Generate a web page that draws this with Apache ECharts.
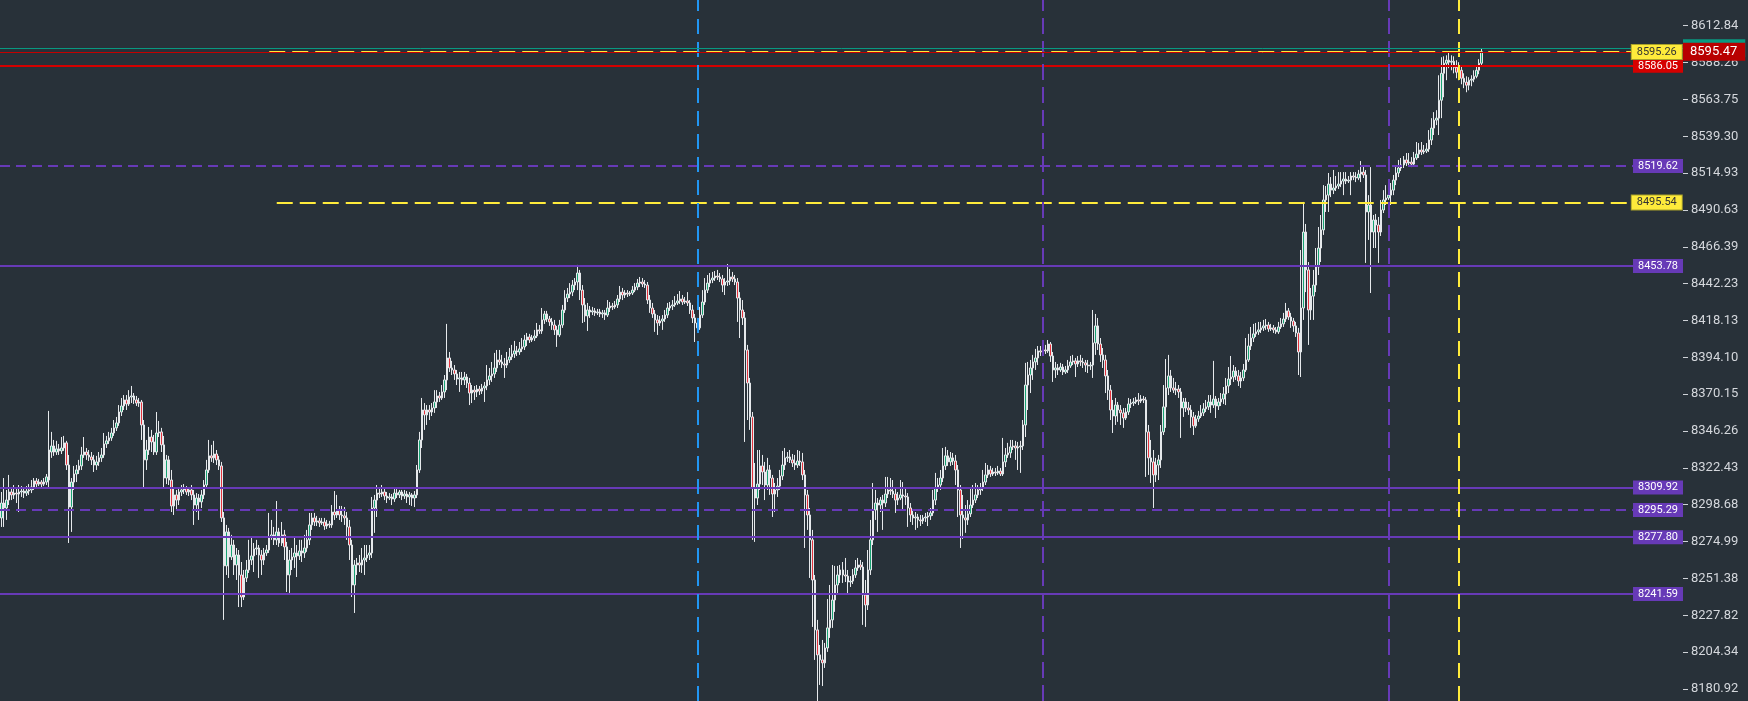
<!DOCTYPE html>
<html><head><meta charset="utf-8">
<style>html,body{margin:0;padding:0;background:#283139;}#c{width:1748px;height:701px;}</style>
<script src="https://cdn.jsdelivr.net/npm/echarts@6.0.0/dist/echarts.min.js"></script>
</head><body><div id="c"></div>
<script>
// right price-scale tick labels (bottom to top), equally spaced on a log scale
const tickLabels = ['8180.92','8204.34','8227.82','8251.38','8274.99','8298.68','8322.43','8346.26','8370.15','8394.10','8418.13','8442.23','8466.39','8490.63','8514.93','8539.30','8563.75','8588.26','8612.84'];
const slotCount = 672; // candle slots incl. empty right margin
const visibleRange = [-0.3256, 18.6974]; // visible extent in tick-step units (bottom, top)

// candles [open, close, low, high], split by the vertical session lines
const session1 = [
[8290.2,8299.8,8284.4,8306.9],[8299.8,8296.6,8284.4,8315.9],[8296.6,8301.7,8288.9,8308.2],[8301.7,8306.9,8298.5,8317.9],[8306.9,8305.0,8301.7,8309.4],[8305.0,8306.2,8302.4,8311.4],[8306.2,8305.6,8299.8,8309.4],[8305.6,8306.9,8294.0,8311.4],[8306.9,8307.5,8303.7,8310.7],[8307.5,8306.2,8303.0,8310.1],
[8306.2,8307.5,8304.3,8310.7],[8307.5,8308.2,8305.0,8312.0],[8308.2,8310.1,8306.2,8314.6],[8310.1,8314.0,8308.2,8315.9],[8314.0,8312.0,8310.1,8315.9],[8312.0,8313.3,8310.7,8315.3],[8313.3,8312.0,8310.1,8314.6],[8312.0,8313.3,8310.7,8315.9],[8313.3,8316.6,8311.4,8318.5],[8314.6,8334.0,8310.1,8359.3],
[8332.7,8336.6,8328.9,8345.7],[8336.6,8332.7,8330.2,8340.5],[8332.7,8334.7,8330.8,8339.9],[8334.7,8333.4,8330.8,8337.9],[8333.4,8335.3,8331.4,8342.4],[8335.3,8338.6,8333.4,8343.1],[8338.6,8324.3,8321.1,8339.9],[8324.3,8297.2,8274.1,8330.8],[8297.2,8313.3,8281.2,8315.9],[8313.3,8318.5,8308.2,8323.7],
[8318.5,8321.1,8313.3,8324.3],[8321.1,8323.7,8318.5,8327.6],[8323.7,8330.8,8321.1,8336.0],[8330.8,8332.7,8328.9,8342.4],[8332.7,8330.8,8327.6,8335.3],[8330.8,8329.5,8326.9,8334.0],[8329.5,8327.6,8324.3,8332.7],[8327.6,8324.3,8319.8,8330.8],[8324.3,8326.3,8321.1,8330.2],[8326.3,8328.9,8323.7,8332.7],
[8328.9,8330.8,8326.3,8335.3],[8330.8,8337.9,8328.9,8345.0],[8337.9,8339.9,8335.3,8343.1],[8339.9,8341.8,8337.9,8345.7],[8341.8,8345.0,8339.9,8348.3],[8345.0,8348.3,8343.1,8353.4],[8348.3,8351.5,8346.3,8355.4],[8351.5,8358.6,8349.6,8363.1],[8358.6,8362.5,8356.0,8367.7],[8362.5,8366.4,8359.9,8369.6],
[8366.4,8363.8,8359.9,8369.6],[8363.8,8368.3,8362.5,8372.8],[8368.3,8369.0,8364.4,8375.5],[8369.0,8366.4,8363.8,8370.9],[8366.4,8364.4,8362.5,8369.0],[8364.4,8365.1,8361.9,8367.7],[8365.1,8350.2,8340.5,8366.4],[8350.2,8327.6,8309.4,8353.4],[8327.6,8334.0,8321.1,8340.5],[8334.0,8342.4,8330.8,8348.9],
[8342.4,8339.2,8332.7,8347.0],[8339.2,8332.7,8330.8,8343.7],[8332.7,8345.0,8330.8,8358.6],[8345.0,8345.7,8342.4,8352.8],[8345.7,8337.3,8332.7,8348.3],[8337.3,8315.9,8310.1,8343.1],[8315.9,8327.6,8312.0,8330.8],[8327.6,8314.6,8311.4,8330.2],[8314.6,8297.9,8294.0,8321.1],[8297.9,8305.0,8292.1,8309.4],
[8305.0,8301.7,8295.3,8308.2],[8301.7,8306.9,8298.5,8310.1],[8306.9,8308.2,8304.3,8311.4],[8308.2,8309.4,8305.6,8312.0],[8309.4,8306.9,8305.0,8310.7],[8306.9,8308.2,8304.3,8310.1],[8308.2,8305.0,8301.7,8311.4],[8305.0,8298.5,8285.7,8308.2],[8298.5,8303.0,8294.0,8306.2],[8303.0,8300.5,8288.9,8305.6],
[8300.5,8305.0,8296.6,8308.2],[8305.0,8311.4,8302.4,8314.6],[8311.4,8321.1,8309.4,8327.6],[8321.1,8330.2,8319.2,8340.5],[8330.2,8328.9,8326.3,8337.3],[8328.9,8331.4,8325.6,8339.9],[8331.4,8327.6,8324.3,8334.0],[8327.6,8323.7,8321.1,8330.2],[8323.7,8290.2,8287.6,8326.3],[8290.2,8259.4,8224.9,8294.0],
[8259.4,8281.2,8253.6,8285.7],[8281.2,8265.1,8251.7,8283.8],[8265.1,8272.8,8263.2,8279.3],[8272.8,8260.0,8253.6,8276.1],[8260.0,8266.4,8250.4,8270.9],[8266.4,8253.6,8233.1,8269.6],[8253.6,8239.5,8233.1,8261.9],[8239.5,8251.7,8237.6,8256.8],[8251.7,8256.8,8249.1,8263.2],[8256.8,8263.2,8254.9,8276.1],
[8263.2,8265.8,8260.0,8277.3],[8265.8,8270.3,8255.5,8274.1],[8270.3,8270.9,8266.4,8276.1],[8270.9,8266.4,8251.7,8272.8],[8266.4,8263.2,8253.6,8269.6],[8263.2,8267.7,8260.0,8270.9],[8267.7,8269.6,8265.8,8272.8],[8269.6,8278.0,8267.7,8293.4],[8278.0,8279.3,8276.1,8288.9],[8279.3,8276.1,8272.8,8284.4],
[8276.1,8281.2,8272.8,8301.1],[8281.2,8274.1,8271.6,8283.8],[8274.1,8279.3,8272.2,8287.6],[8279.3,8271.6,8263.2,8282.5],[8271.6,8253.6,8242.7,8274.8],[8253.6,8263.2,8242.1,8269.6],[8263.2,8265.1,8256.8,8270.9],[8265.1,8267.7,8258.1,8278.0],[8267.7,8265.8,8252.3,8272.8],[8265.8,8269.0,8263.2,8276.1],
[8269.0,8267.7,8261.9,8276.1],[8267.7,8270.9,8264.5,8279.3],[8270.9,8276.1,8268.4,8282.5],[8276.1,8285.7,8272.8,8293.4],[8285.7,8290.2,8282.5,8293.4],[8290.2,8287.6,8285.0,8293.4],[8287.6,8288.3,8285.0,8291.5],[8288.3,8287.0,8284.4,8290.2],[8287.0,8287.6,8285.7,8290.2],[8287.6,8285.0,8282.5,8290.2],
[8285.0,8286.3,8283.1,8288.9],[8286.3,8285.7,8283.8,8288.3],[8285.7,8294.0,8283.8,8298.5],[8294.0,8292.1,8288.9,8307.5],[8292.1,8295.3,8290.2,8305.0],[8295.3,8292.1,8288.9,8297.9],[8292.1,8291.5,8287.6,8297.9],[8291.5,8290.2,8285.7,8297.2],[8290.2,8284.4,8276.1,8294.0],[8284.4,8272.8,8263.2,8288.9],
[8272.8,8247.2,8239.5,8276.1],[8247.2,8260.0,8229.3,8263.2],[8260.0,8261.3,8253.6,8264.5],[8261.3,8260.0,8255.5,8266.4],[8260.0,8263.2,8254.9,8270.9],[8263.2,8264.5,8253.6,8272.8],[8264.5,8266.4,8261.9,8272.8],[8266.4,8267.7,8263.2,8272.8],[8267.7,8296.6,8264.5,8303.7],[8296.6,8301.7,8280.6,8305.0],
[8301.7,8306.2,8290.8,8311.4],[8306.2,8305.6,8303.0,8309.4],[8305.6,8306.9,8303.7,8311.4],[8306.9,8304.3,8301.7,8309.4],[8304.3,8303.0,8299.8,8306.9],[8303.0,8303.7,8301.7,8306.2],[8303.7,8302.4,8298.5,8305.6],[8302.4,8306.2,8300.5,8308.8],[8306.2,8305.0,8303.0,8308.8],[8305.0,8306.9,8303.0,8308.2],
[8306.9,8304.3,8301.7,8308.2],[8304.3,8305.6,8302.4,8308.2],[8305.6,8303.7,8299.8,8307.5],[8303.7,8305.0,8298.5,8306.9],[8305.0,8303.0,8297.9,8306.2],[8303.0,8305.0,8297.2,8307.5],[8305.0,8321.1,8303.0,8324.3],[8321.1,8340.5,8319.2,8345.7],[8340.5,8359.9,8335.3,8367.7],[8359.9,8356.7,8347.0,8364.4],
[8356.7,8359.9,8350.2,8363.1],[8359.9,8358.6,8353.4,8363.1],[8358.6,8361.2,8356.0,8364.4],[8361.2,8365.1,8358.0,8372.8],[8365.1,8369.0,8361.2,8372.8],[8369.0,8367.7,8365.1,8371.6],[8367.7,8371.6,8366.4,8376.1],[8371.6,8379.4,8367.7,8382.6],[8379.4,8393.7,8372.8,8415.9],[8393.7,8387.2,8384.6,8397.6],
[8387.2,8385.9,8382.6,8391.8],[8385.9,8383.3,8379.4,8389.1],[8383.3,8380.0,8376.1,8385.9],[8380.0,8380.7,8371.6,8384.6],[8380.7,8379.4,8376.1,8384.6],[8379.4,8381.3,8376.1,8384.6],[8381.3,8377.4,8374.2,8383.3],[8377.4,8370.9,8363.1,8380.7],[8370.9,8372.8,8364.4,8376.1],[8372.8,8371.6,8366.4,8375.5],
[8371.6,8373.5,8368.3,8376.1],[8373.5,8372.2,8369.6,8375.5],[8372.2,8374.2,8370.3,8376.8],[8374.2,8375.5,8365.1,8378.1],[8375.5,8379.4,8372.8,8389.1],[8379.4,8382.0,8376.1,8387.2],[8382.0,8383.3,8378.1,8391.1],[8383.3,8387.2,8380.7,8397.0],[8387.2,8392.4,8384.6,8398.9],[8392.4,8391.1,8389.1,8398.9],
[8391.1,8389.8,8387.2,8395.7],[8389.8,8389.1,8380.7,8393.7],[8389.1,8392.4,8387.2,8397.6],[8392.4,8394.4,8390.5,8400.2],[8394.4,8396.3,8392.4,8402.2],[8396.3,8398.3,8393.7,8404.8],[8398.3,8397.6,8395.0,8401.5],[8397.6,8399.6,8395.7,8404.1],[8399.6,8400.9,8397.6,8406.7],[8400.9,8405.4,8398.9,8408.7],
[8405.4,8407.4,8401.5,8410.0],[8407.4,8405.4,8403.5,8409.4],[8405.4,8406.7,8404.1,8408.7],[8406.7,8408.0,8404.8,8412.0],[8408.0,8412.0,8406.7,8416.5],[8412.0,8411.3,8409.4,8415.2],[8411.3,8418.5,8409.4,8426.3],[8418.5,8422.4,8415.9,8424.4],[8422.4,8419.1,8417.2,8424.4],[8419.1,8417.2,8414.6,8421.1],
[8417.2,8415.2,8412.0,8419.8],[8415.2,8412.0,8408.7,8418.5],[8412.0,8408.7,8400.9,8414.6],[8408.7,8415.2,8407.4,8418.5],[8415.2,8425.0,8413.3,8428.3],[8425.0,8432.8,8423.1,8438.0],[8432.8,8435.4,8430.2,8439.4],[8435.4,8436.7,8432.8,8442.6],[8436.7,8441.3,8434.1,8444.6],[8441.3,8443.3,8438.0,8445.9],
[8443.3,8449.2,8438.0,8454.5],[8449.2,8438.0,8431.5,8451.2],[8438.0,8428.3,8416.5,8441.3],[8428.3,8421.1,8417.2,8432.8],[8421.1,8425.0,8411.3,8429.6],[8425.0,8423.7,8419.8,8427.6],[8423.7,8424.4,8421.7,8427.0],[8424.4,8423.1,8421.1,8426.3],[8423.1,8423.7,8421.7,8425.7],[8423.7,8422.4,8420.4,8425.7],
[8422.4,8423.1,8419.8,8425.0],[8423.1,8421.7,8418.5,8425.0],[8421.7,8426.3,8420.4,8431.5],[8426.3,8427.6,8423.7,8430.2],[8427.6,8427.0,8425.0,8429.6],[8427.0,8428.3,8425.7,8430.9],[8428.3,8432.2,8426.3,8434.8],[8432.2,8436.7,8430.2,8440.7],[8436.7,8434.8,8431.5,8439.4],[8434.8,8436.1,8432.8,8438.0],
[8436.1,8435.4,8433.5,8438.0],[8435.4,8436.1,8434.1,8437.4],[8436.1,8438.0,8434.8,8440.7],[8438.0,8440.0,8436.7,8442.6],[8440.0,8442.6,8438.0,8445.3],[8442.6,8443.3,8440.0,8446.6],[8443.3,8442.0,8440.0,8445.9],[8442.0,8441.3,8439.4,8444.6],[8441.3,8431.5,8428.9,8443.3],[8431.5,8426.3,8423.1,8434.8],
[8426.3,8422.4,8419.8,8429.6],[8422.4,8418.5,8410.7,8425.0],[8418.5,8416.5,8408.7,8421.7],[8416.5,8417.8,8414.6,8421.1],[8417.8,8419.1,8412.0,8421.7],[8419.1,8421.7,8417.2,8425.0],[8421.7,8426.3,8419.8,8429.6],[8426.3,8427.6,8424.4,8430.2],[8427.6,8428.3,8425.0,8431.5],[8428.3,8429.6,8427.0,8434.1],
[8429.6,8430.9,8428.3,8435.4],[8430.9,8432.2,8428.9,8437.4],[8432.2,8430.2,8428.3,8434.8],[8430.2,8430.9,8428.9,8433.5],[8430.9,8429.6,8427.6,8436.7],[8429.6,8425.0,8422.4,8431.5],[8425.0,8419.8,8416.5,8428.3],[8419.8,8416.5,8404.1,8422.4]
];
const session2 = [
[8416.5,8413.3,8410.0,8419.8],[8413.3,8421.7,8412.0,8427.0],[8421.7,8430.2,8419.8,8438.0],[8430.2,8438.0,8428.3,8445.9],[8438.0,8442.6,8436.1,8447.9],[8442.6,8444.6,8440.0,8449.2],[8444.6,8445.9,8442.6,8449.9],[8445.9,8447.2,8444.0,8450.5],[8447.2,8446.6,8444.6,8451.2],[8446.6,8445.3,8443.3,8449.2],
[8445.3,8441.3,8436.7,8447.9],[8441.3,8443.3,8434.8,8445.9],[8443.3,8444.0,8440.7,8455.1],[8444.0,8446.6,8441.3,8451.8],[8446.6,8445.3,8443.3,8449.9],[8445.3,8443.3,8441.3,8447.9],[8443.3,8432.8,8417.2,8445.9],[8432.8,8425.0,8406.7,8436.7],[8425.0,8419.8,8415.2,8431.5],[8419.8,8398.9,8339.2,8423.7],
[8398.9,8377.4,8353.4,8402.2],[8377.4,8355.4,8347.0,8380.7],[8355.4,8309.4,8276.1,8358.6],[8309.4,8303.0,8274.8,8325.6],[8303.0,8312.0,8298.5,8334.0],[8312.0,8323.7,8308.2,8334.0],[8323.7,8319.8,8311.4,8330.8],[8319.8,8311.4,8301.7,8326.3],[8311.4,8321.1,8308.2,8328.9],[8321.1,8315.9,8305.0,8324.3],
[8315.9,8305.6,8290.8,8317.9],[8305.6,8308.2,8294.0,8312.7],[8308.2,8310.7,8303.7,8315.9],[8310.7,8317.2,8308.2,8321.1],[8317.2,8324.3,8314.6,8333.4],[8324.3,8328.9,8321.1,8335.3],[8328.9,8329.5,8326.3,8332.7],[8329.5,8327.6,8325.6,8334.0],[8327.6,8325.6,8323.0,8331.4],[8325.6,8324.3,8321.1,8330.8],
[8324.3,8326.9,8322.4,8334.0],[8326.9,8326.3,8323.7,8333.4],[8326.3,8317.9,8314.6,8332.1],[8317.9,8305.0,8270.9,8321.1],[8305.0,8292.1,8282.5,8308.2],[8292.1,8276.1,8251.7,8296.6],[8276.1,8250.4,8220.4,8282.5],[8250.4,8218.5,8199.4,8253.6],[8218.5,8202.6,8173.3,8224.9],[8202.6,8199.4,8183.5,8208.9],
[8199.4,8197.5,8182.8,8212.1],[8197.5,8207.0,8194.3,8210.2],[8207.0,8219.8,8204.5,8238.2],[8219.8,8224.9,8213.4,8247.2],[8224.9,8237.6,8219.8,8260.0],[8237.6,8247.2,8230.0,8259.4],[8247.2,8253.6,8240.8,8259.4],[8253.6,8256.8,8248.5,8260.0],[8256.8,8253.6,8248.5,8261.9],[8253.6,8252.9,8249.1,8264.5],
[8252.9,8249.1,8240.8,8256.8],[8249.1,8249.7,8245.9,8252.9],[8249.7,8253.6,8247.8,8257.4],[8253.6,8258.1,8251.7,8263.2],[8258.1,8260.0,8256.2,8264.5],[8260.0,8258.7,8256.8,8263.2],[8258.7,8240.8,8221.7,8261.9],[8240.8,8234.4,8220.4,8250.4],[8234.4,8256.8,8231.2,8269.6],[8256.8,8276.1,8253.6,8288.9],
[8276.1,8295.3,8272.8,8312.7],[8295.3,8299.8,8288.9,8308.2],[8299.8,8298.5,8281.2,8303.0],[8298.5,8301.7,8294.0,8303.7],[8301.7,8299.8,8282.5,8305.0],[8299.8,8305.6,8297.2,8316.6],[8305.6,8308.2,8303.0,8316.6],[8308.2,8307.5,8305.0,8315.9],[8307.5,8305.6,8303.0,8314.6],[8305.6,8301.7,8293.4,8309.4],
[8301.7,8303.0,8298.5,8306.9],[8303.0,8305.0,8301.7,8314.6],[8305.0,8304.3,8295.3,8313.3],[8304.3,8303.7,8298.5,8309.4],[8303.7,8296.6,8284.4,8306.2],[8296.6,8292.1,8287.6,8299.8],[8292.1,8290.2,8285.7,8295.3],[8290.2,8290.8,8282.5,8294.0],[8290.8,8288.9,8283.8,8292.8],[8288.9,8288.3,8285.0,8292.1],
[8288.3,8290.2,8286.3,8292.1],[8290.2,8290.8,8287.6,8293.4],[8290.8,8291.5,8285.0,8294.0],[8291.5,8293.4,8288.9,8296.6],[8293.4,8301.7,8291.5,8308.2],[8301.7,8309.4,8298.5,8319.2],[8309.4,8311.4,8306.9,8315.9],[8311.4,8315.9,8308.2,8321.1],[8315.9,8323.7,8313.3,8335.3],[8323.7,8330.2,8321.1,8336.0],
[8330.2,8326.3,8323.7,8334.0],[8326.3,8328.9,8323.7,8332.7],[8328.9,8326.9,8324.3,8332.1],[8326.9,8321.1,8311.4,8330.8],[8321.1,8308.2,8290.8,8324.3],[8308.2,8292.1,8270.9,8311.4],[8292.1,8290.2,8276.7,8305.0],[8290.2,8288.9,8280.6,8298.5],[8288.9,8292.8,8285.7,8301.7],[8292.8,8298.5,8290.8,8310.1],
[8298.5,8301.7,8296.6,8311.4],[8301.7,8305.0,8299.8,8312.7],[8305.0,8308.2,8303.0,8311.4],[8308.2,8309.4,8305.0,8312.7],[8309.4,8313.3,8307.5,8321.1],[8313.3,8317.9,8311.4,8325.6],[8317.9,8321.1,8315.9,8324.3],[8321.1,8318.5,8316.6,8323.7],[8318.5,8319.8,8317.2,8322.4],[8319.8,8319.2,8317.2,8322.4],
[8319.2,8320.4,8317.9,8323.7],[8320.4,8318.5,8317.2,8322.4],[8318.5,8326.3,8317.2,8341.8],[8326.3,8330.8,8323.0,8335.3],[8330.8,8332.1,8328.9,8338.6],[8332.1,8336.0,8328.9,8340.5],[8336.0,8336.6,8334.0,8340.5],[8336.6,8335.3,8327.6,8339.9],[8335.3,8336.0,8321.1,8339.2],[8336.0,8336.6,8319.2,8339.9],
[8336.6,8350.2,8334.0,8353.4],[8350.2,8376.1,8342.4,8390.5],[8376.1,8382.6,8359.9,8391.1],[8382.6,8387.2,8370.9,8392.4],[8387.2,8391.1,8379.4,8395.7],[8391.1,8393.7,8385.9,8399.6],[8393.7,8398.3,8389.1,8401.5],[8398.3,8397.6,8395.0,8401.5]
];
const session3 = [
[8397.6,8398.9,8395.7,8403.5],[8398.9,8398.3,8396.3,8402.2],[8398.3,8402.8,8397.0,8405.4],[8402.8,8395.0,8391.1,8404.1],[8395.0,8385.9,8378.1,8397.6],[8385.9,8387.2,8380.7,8391.1],[8387.2,8385.9,8382.6,8389.8],[8385.9,8387.8,8384.6,8390.5],[8387.8,8384.6,8382.6,8389.8],[8384.6,8385.9,8383.3,8388.5],
[8385.9,8388.5,8383.9,8392.4],[8388.5,8391.1,8387.2,8395.0],[8391.1,8391.8,8389.1,8395.7],[8391.8,8389.8,8381.3,8393.7],[8389.8,8391.8,8387.8,8395.0],[8391.8,8391.1,8388.5,8395.7],[8391.1,8390.5,8387.2,8393.7],[8390.5,8389.1,8384.6,8392.4],[8389.1,8388.5,8383.9,8392.4],[8388.5,8389.1,8385.9,8391.1],
[8389.1,8403.5,8380.7,8425.0],[8403.5,8414.6,8395.7,8422.4],[8414.6,8402.8,8398.9,8419.8],[8402.8,8395.7,8391.1,8406.7],[8395.7,8392.4,8387.2,8400.2],[8392.4,8382.0,8370.9,8395.7],[8382.0,8372.8,8366.4,8385.9],[8372.8,8359.9,8353.4,8376.1],[8359.9,8356.0,8345.0,8366.4],[8356.0,8363.1,8350.2,8367.7],
[8363.1,8359.9,8352.2,8365.1],[8359.9,8358.0,8350.2,8363.1],[8358.0,8354.7,8348.3,8361.2],[8354.7,8358.6,8353.4,8361.2],[8358.6,8363.8,8356.7,8367.7],[8363.8,8364.4,8361.2,8367.0],[8364.4,8365.1,8362.5,8367.7],[8365.1,8366.4,8363.8,8368.3],[8366.4,8365.7,8363.1,8370.9],[8365.7,8367.0,8364.4,8369.6],
[8367.0,8366.4,8364.4,8369.0],[8366.4,8345.7,8316.6,8368.3],[8345.7,8328.9,8317.9,8350.2],[8328.9,8326.3,8312.7,8340.5],[8326.3,8317.9,8296.6,8334.0],[8317.9,8324.3,8313.3,8328.9],[8324.3,8327.6,8314.6,8330.8],[8327.6,8345.7,8322.4,8350.2],[8345.7,8361.9,8343.7,8376.1],[8361.9,8374.2,8348.3,8393.0],
[8374.2,8382.0,8369.6,8395.7],[8382.0,8374.2,8371.6,8385.9],[8374.2,8372.8,8370.9,8380.7],[8372.8,8373.5,8369.6,8378.1],[8373.5,8371.6,8367.7,8376.1],[8371.6,8361.2,8341.8,8374.2],[8361.2,8365.1,8355.4,8367.7],[8365.1,8361.2,8358.6,8367.7],[8361.2,8359.9,8356.7,8365.1],[8359.9,8355.4,8348.3,8363.1],
[8355.4,8349.6,8343.7,8358.6],[8349.6,8354.1,8348.3,8356.7],[8354.1,8356.0,8352.2,8359.3],[8356.0,8358.0,8354.7,8363.1],[8358.0,8360.6,8356.0,8364.4],[8360.6,8361.9,8358.6,8366.4],[8361.9,8365.1,8359.9,8369.6],[8365.1,8363.1,8358.0,8369.6],[8363.1,8367.0,8361.2,8391.8],[8367.0,8362.5,8354.7,8369.0],
[8362.5,8365.1,8359.9,8367.7],[8365.1,8367.0,8362.5,8370.9],[8367.0,8370.3,8363.8,8374.8],[8370.3,8375.5,8363.1,8380.7],[8375.5,8380.0,8370.9,8387.8],[8380.0,8381.3,8376.1,8395.0],[8381.3,8385.2,8378.1,8389.1],[8385.2,8382.0,8379.4,8387.8],[8382.0,8378.7,8375.5,8385.9],[8378.7,8380.7,8374.2,8384.6],
[8380.7,8385.9,8378.7,8389.8],[8385.9,8392.4,8384.6,8406.7],[8392.4,8401.5,8391.1,8409.4],[8401.5,8406.7,8398.9,8413.9],[8406.7,8409.4,8404.1,8415.9],[8409.4,8410.7,8407.4,8416.5],[8410.7,8412.0,8408.7,8417.2],[8412.0,8413.3,8410.0,8417.2],[8413.3,8414.6,8411.3,8418.5],[8414.6,8415.2,8412.0,8419.1],
[8415.2,8412.6,8410.7,8417.2],[8412.6,8413.3,8411.3,8415.9],[8413.3,8412.0,8410.0,8415.2],[8412.0,8410.7,8409.4,8413.9],[8410.7,8413.9,8409.4,8417.2],[8413.9,8415.9,8412.6,8419.8],[8415.9,8419.1,8413.9,8423.1],[8419.1,8424.4,8417.2,8429.6],[8424.4,8420.4,8418.5,8426.3],[8420.4,8417.8,8413.3,8423.1],
[8417.8,8414.6,8410.7,8419.8],[8414.6,8410.0,8407.4,8417.2],[8410.0,8397.6,8382.6,8413.3],[8397.6,8426.3,8381.3,8464.3],[8426.3,8476.1,8418.5,8495.9],[8476.1,8451.2,8436.7,8481.4],[8451.2,8425.0,8402.2,8456.4],[8425.0,8434.1,8418.5,8439.4],[8434.1,8441.3,8418.5,8451.2],[8441.3,8453.2,8436.7,8465.6],
[8453.2,8465.6,8447.9,8479.4],[8465.6,8477.5,8456.4,8487.3],[8477.5,8497.2,8474.2,8507.0],[8497.2,8500.4,8489.3,8506.4],[8500.4,8507.7,8489.3,8515.0],[8507.7,8503.7,8499.1,8512.3],[8503.7,8505.1,8501.1,8517.0],[8505.1,8506.4,8503.1,8513.0],[8506.4,8507.7,8504.4,8515.6],[8507.7,8509.7,8505.7,8515.6],
[8509.7,8511.0,8500.4,8515.6],[8511.0,8509.7,8507.7,8515.6],[8509.7,8510.3,8508.4,8513.0],[8510.3,8513.0,8500.4,8515.6],[8513.0,8512.3,8510.3,8515.6],[8512.3,8511.7,8509.0,8515.6],[8511.7,8514.3,8510.3,8517.0],[8514.3,8515.6,8509.0,8522.9],[8515.6,8513.7,8511.7,8520.3],[8513.7,8489.3,8455.8,8517.0],
[8489.3,8493.9,8470.9,8500.4],[8493.9,8476.1,8436.1,8518.9],[8476.1,8484.0,8465.6,8487.3],[8484.0,8480.7,8465.6,8488.0],[8480.7,8476.1,8455.8,8486.0],[8476.1,8490.6,8473.5,8497.2],[8490.6,8497.2,8488.6,8503.7],[8497.2,8498.5,8493.9,8507.0]
];
const session4 = [
[8498.5,8500.4,8497.2,8505.1],[8500.4,8503.7,8493.9,8508.4],[8503.7,8510.3,8500.4,8513.7],[8510.3,8515.0,8507.0,8519.6],[8515.0,8518.3,8512.3,8523.6],[8518.3,8520.3,8516.3,8524.9],[8520.3,8523.6,8518.3,8526.2],[8523.6,8521.6,8519.6,8528.2],[8521.6,8522.2,8519.6,8528.2],[8522.2,8520.9,8518.9,8525.5],
[8520.9,8524.9,8519.6,8528.9],[8524.9,8527.5,8523.6,8535.5],[8527.5,8530.2,8524.9,8534.8],[8530.2,8528.9,8526.9,8535.5],[8528.9,8529.5,8527.5,8533.5],[8529.5,8530.8,8528.2,8534.8],[8530.8,8536.8,8528.9,8543.4],[8536.8,8544.7,8533.5,8551.3],[8544.7,8550.0,8540.1,8555.3],[8550.0,8551.3,8546.7,8556.6],
[8551.3,8563.2,8540.1,8579.8],[8563.2,8581.1,8551.3,8591.8],[8581.1,8587.8,8565.2,8592.4],[8587.8,8589.8,8576.5,8593.1],[8589.8,8588.5,8584.5,8595.2],[8588.5,8589.1,8583.1,8593.1],[8589.1,8585.1,8581.1,8592.4],[8585.1,8581.8,8577.8,8589.8],[8581.8,8583.1,8576.5,8588.5],[8583.1,8577.8,8573.8,8585.8],
[8577.8,8575.2,8571.2,8581.1],[8575.2,8573.2,8568.5,8579.1],[8573.2,8576.5,8569.8,8578.5],[8576.5,8577.2,8572.5,8579.8],[8577.2,8579.1,8575.2,8583.1],[8579.1,8583.1,8577.8,8585.8],[8583.1,8587.8,8580.5,8590.5],[8587.8,8595.47,8585.8,8597.8]
];

// horizontal levels
const purpleSolidLevels = [8453.78, 8309.92, 8277.80, 8241.59];
const purpleDashedLevels = [8519.62, 8295.29];
const yellowRayLevels = [8595.26, 8495.54];
const yellowRayStarts = [107, 110];      // slot index where each ray begins
const redLevel = 8586.05;
const lastPrice = 8595.47;
const askLevel = 8597.80;
// vertical markers (slot indices)
const blueVerticals = [278];
const purpleVerticals = [416, 554];
const yellowVerticals = [582];

const BASE = parseFloat(tickLabels[0]);
const TOPV = parseFloat(tickLabels[tickLabels.length - 1]);
const STEP = Math.log(TOPV / BASE) / (tickLabels.length - 1);
const toAxis = p => Math.log(p / BASE) / STEP;
const tickValues = tickLabels.map(s => toAxis(parseFloat(s)));

const candles = session1.concat(session2, session3, session4);
const categories = Array.from({length: slotCount}, (_, i) => String(i));
const seriesData = candles.map(r => r.map(toAxis));

const PURPLE = '#673ab7', YELLOW = '#ffeb3b', RED = '#d50000', BLUE = '#2196f3', GREEN = '#089981';
const boxLabel = (txt, bg, fg, extra) => Object.assign({
  show: true, position: 'insideEnd', distance: 0, formatter: txt,
  backgroundColor: bg, color: fg, fontSize: 11, fontFamily: 'Roboto',
  padding: [2, 5, 1, 5]
}, extra || {});

const mlData = [];
purpleSolidLevels.forEach(v => mlData.push({
  yAxis: toAxis(v), lineStyle: {color: PURPLE, width: 2, type: 'solid'},
  label: boxLabel(v.toFixed(2), PURPLE, '#ffffff')
}));
purpleDashedLevels.forEach(v => mlData.push({
  yAxis: toAxis(v), lineStyle: {color: PURPLE, width: 2, type: [10, 6]},
  label: boxLabel(v.toFixed(2), PURPLE, '#ffffff')
}));
mlData.push({
  yAxis: toAxis(redLevel), lineStyle: {color: RED, width: 2, type: 'solid'},
  label: boxLabel(redLevel.toFixed(2), RED, '#ffffff')
});
yellowRayLevels.forEach((v, k) => mlData.push([
  {coord: [yellowRayStarts[k], toAxis(v)], lineStyle: {color: YELLOW, width: 2, type: [16, 7]},
   label: boxLabel(v.toFixed(2), YELLOW, '#333333', {borderColor: '#a9a22a', borderWidth: 1})},
  {coord: [slotCount - 1, toAxis(v)]}
]));
blueVerticals.forEach(i => mlData.push({xAxis: i, lineStyle: {color: BLUE, width: 2, type: [15, 8]}, label: {show: false}}));
purpleVerticals.forEach(i => mlData.push({xAxis: i, lineStyle: {color: PURPLE, width: 2, type: [16, 7]}, label: {show: false}}));
yellowVerticals.forEach(i => mlData.push({xAxis: i, lineStyle: {color: YELLOW, width: 2, type: [15, 8]}, label: {show: false}}));
mlData.push({
  yAxis: toAxis(askLevel), lineStyle: {color: GREEN, width: 1, type: 'solid'},
  label: {show: true, position: 'end', distance: 0, formatter: lastPrice.toFixed(2),
    backgroundColor: GREEN, color: GREEN, fontSize: 13, fontFamily: 'Roboto', padding: [3, 8, 2, 7]}
});
mlData.push({
  yAxis: toAxis(lastPrice), lineStyle: {color: '#c40000', width: 1, type: 'solid'},
  label: {show: true, position: 'end', distance: 0, formatter: lastPrice.toFixed(2),
    backgroundColor: '#b80000', color: '#ffffff', fontSize: 13, fontFamily: 'Roboto', padding: [3, 8, 2, 7]}
});

const chart = echarts.init(document.getElementById('c'), null, {renderer: 'canvas'});
chart.setOption({
  backgroundColor: '#283139',
  animation: false,
  grid: {left: 0, right: 65, top: 0, bottom: 0, containLabel: false},
  xAxis: {
    type: 'category', data: categories, boundaryGap: true,
    axisLine: {show: false}, axisTick: {show: false}, axisLabel: {show: false}, splitLine: {show: false}
  },
  yAxis: {
    type: 'value', position: 'right', min: visibleRange[0], max: visibleRange[1],
    axisLine: {show: false},
    axisTick: {show: true, length: 5, customValues: tickValues, lineStyle: {color: '#cfd3d8', width: 1}},
    splitLine: {show: false},
    axisLabel: {
      color: '#d4d7dc', fontSize: 13, fontFamily: 'Roboto', margin: 8,
      customValues: tickValues,
      formatter: v => {
        const k = Math.round(v);
        if (Math.abs(v - k) > 1e-3 || k < 0 || k >= tickLabels.length) return '';
        return tickLabels[k];
      }
    }
  },
  series: [{
    type: 'candlestick',
    large: false,
    barWidth: 2,
    data: seriesData,
    itemStyle: {
      color: '#17a373', color0: '#e5323c',
      borderColor: '#e6e9ec', borderColor0: '#e6e9ec', borderColorDoji: '#e6e9ec',
      borderWidth: 1
    },
    markLine: {
      silent: true, symbol: ['none', 'none'], animation: false,
      data: mlData
    }
  }]
});
</script>
</body></html>
